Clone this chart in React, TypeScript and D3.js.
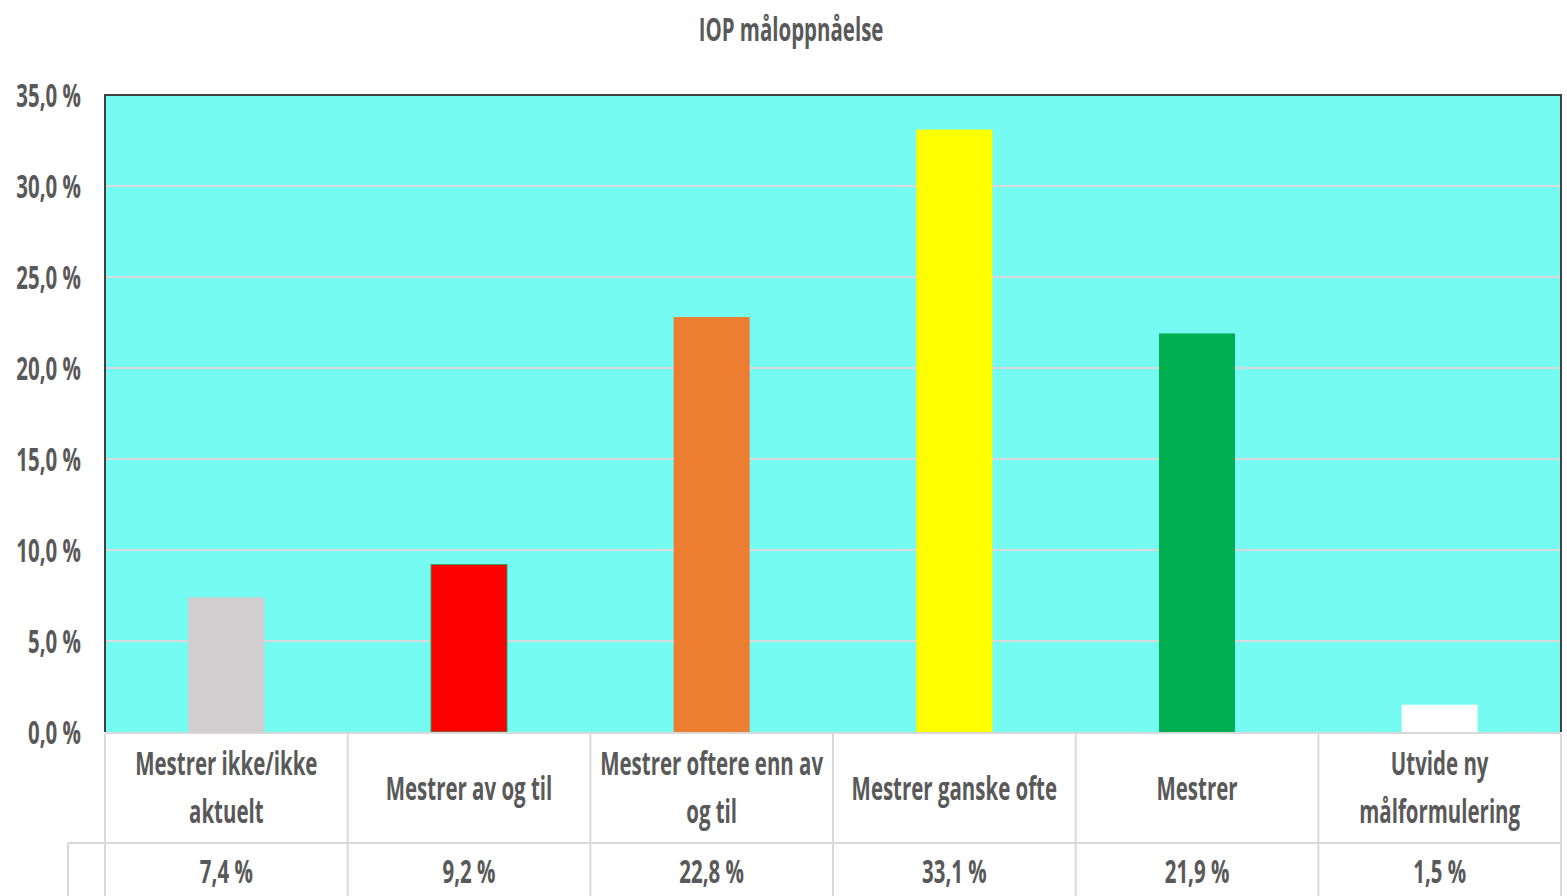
import React, { useEffect } from 'react';
import * as d3 from 'd3';

const title = 'IOP måloppnåelse';
const categories = [
  'Mestrer ikke/ikke aktuelt',
  'Mestrer av og til',
  'Mestrer oftere enn av og til',
  'Mestrer ganske ofte',
  'Mestrer',
  'Utvide ny målformulering',
];
// how the table cells wrap each category name
const categoryLines = [
  ['Mestrer ikke/ikke', 'aktuelt'],
  ['Mestrer av og til'],
  ['Mestrer oftere enn av', 'og til'],
  ['Mestrer ganske ofte'],
  ['Mestrer'],
  ['Utvide ny', 'målformulering'],
];
const values = [7.4, 9.2, 22.8, 33.1, 21.9, 1.5];
const barColors = ['#D0CECE', '#FF0000', '#ED7D31', '#FFFF00', '#00B050', '#FFFFFF'];
const yTicks = [0, 5, 10, 15, 20, 25, 30, 35];

const W = 1567;
const H = 896;
const plot = { left: 105, right: 1561, top: 95, bottom: 732 };
const tableMid = 843;
const tableLeft = 68;
const SX = 0.62; // horizontal squeeze of the text
const FONT = "'Open Sans', 'Liberation Sans', sans-serif";
const TEXT = '#595959';
const GRID = '#D9D9D9';

const fmt = (v: number) => d3.format('.1f')(v).replace('.', ',') + '\u00a0%';

const Label: React.FC<{ x: number; y: number; size?: number; anchor?: string; children: React.ReactNode }> = ({
  x, y, size = 33, anchor = 'middle', children,
}) => (
  <text
    transform={`translate(${x},${y}) scale(${SX},1)`}
    textAnchor={anchor as any}
    fontFamily={FONT}
    fontWeight={700}
    fontSize={size}
    fill={TEXT}
  >
    {children}
  </text>
);

export default function App() {
  useEffect(() => {
    document.body.style.margin = '0';
    document.body.style.overflow = 'hidden';
  }, []);

  const x = d3.scaleBand<string>().domain(categories).range([plot.left, plot.right]).padding(0);
  const y = d3.scaleLinear().domain([0, 35]).range([plot.bottom, plot.top]);
  const bw = x.bandwidth() * 0.313;
  const edges = [...categories.map((c) => x(c)!), plot.right];

  return (
    <svg width={W} height={H} style={{ display: 'block', background: '#fff' }}>
      <Label x={791} y={41}>{title}</Label>

      <rect x={plot.left} y={plot.top} width={plot.right - plot.left} height={plot.bottom - plot.top} fill="#75FBF2" />

      {yTicks.filter((t) => t > 0 && t < 35).map((t) => (
        <line key={t} x1={plot.left} x2={plot.right} y1={y(t)} y2={y(t)} stroke={GRID} strokeWidth={2} />
      ))}

      {categories.map((c, i) => (
        <rect
          key={c}
          x={x(c)! + (x.bandwidth() - bw) / 2}
          y={y(values[i])}
          width={bw}
          height={y(0) - y(values[i])}
          fill={barColors[i]}
          stroke={i === 1 ? '#2E9E5B' : 'none'}
          strokeWidth={1}
        />
      ))}

      {/* frame */}
      <path
        d={`M${plot.left},${plot.bottom} V${plot.top} H${plot.right} V${plot.bottom}`}
        fill="none"
        stroke="#404040"
        strokeWidth={2}
      />

      {yTicks.map((t) => (
        <Label key={t} x={81} y={y(t) + 12} anchor="end">{fmt(t)}</Label>
      ))}

      {/* data table */}
      <line x1={plot.left} x2={plot.right} y1={plot.bottom + 1} y2={plot.bottom + 1} stroke={GRID} strokeWidth={2} />
      <line x1={tableLeft} x2={plot.right} y1={tableMid} y2={tableMid} stroke={GRID} strokeWidth={2} />
      <line x1={tableLeft} x2={tableLeft} y1={tableMid} y2={H} stroke={GRID} strokeWidth={2} />
      {edges.map((e, i) => (
        <line key={i} x1={e} x2={e} y1={plot.bottom + 2} y2={H} stroke={GRID} strokeWidth={2} />
      ))}

      {categories.map((c, i) => {
        const cx = x(c)! + x.bandwidth() / 2;
        const lines = categoryLines[i];
        const base = lines.length === 1 ? 800 : 775;
        return (
          <g key={c}>
            {lines.map((ln, j) => (
              <Label key={j} x={cx} y={base + j * 48}>{ln}</Label>
            ))}
            <Label x={cx} y={883}>{fmt(values[i])}</Label>
          </g>
        );
      })}
    </svg>
  );
}
